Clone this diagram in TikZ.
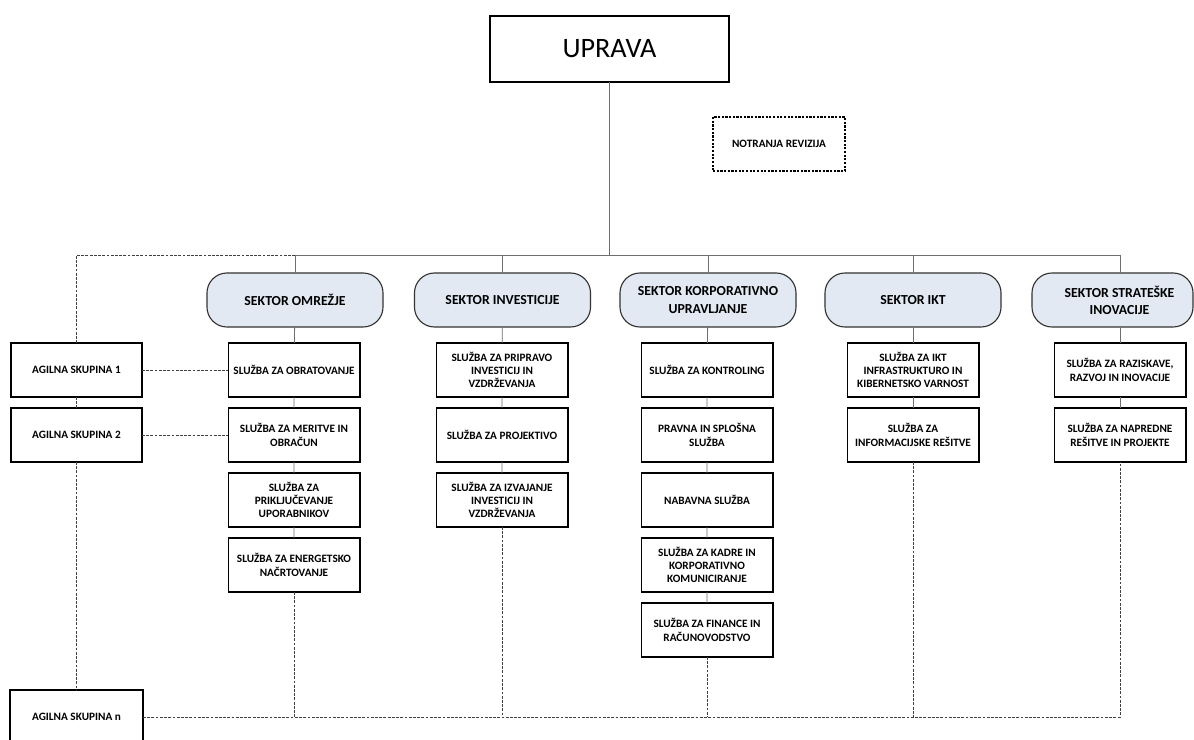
\documentclass[tikz,border=0pt]{standalone}
\usepackage{fontspec}
\setmainfont{Carlito}
\usepackage{tikz}
\usetikzlibrary{calc}

\definecolor{sektorfill}{HTML}{E2E9F3}
\definecolor{linegray}{HTML}{6E6E6E}

\tikzset{
  sluzba/.style={draw=black, line width=1.4pt, minimum width=3.275cm, minimum height=1.35cm,
    align=center, inner sep=1pt, outer sep=0pt, font=\fontsize{8}{9.4}\selectfont\bfseries},
  sektor/.style={draw=black!80, line width=0.8pt, fill=sektorfill, rounded corners=0.5cm,
    minimum width=4.4cm, minimum height=1.35cm, align=center, outer sep=0pt,
    font=\fontsize{9.8}{12.2}\selectfont\bfseries},
  vez/.style={draw=linegray, line width=0.6pt},
  crtkano/.style={draw=black!75, line width=0.5pt, dash pattern=on 2pt off 1pt}
}

\begin{document}
\begin{tikzpicture}[x=0.025cm, y=-0.025cm]

  %% Background
  \clip (0,0) rectangle (1194,740);
  \fill[white] (0,0) rectangle (1194,740);

  % Uprava in revizija
  \node[draw=black, line width=1.4pt, minimum width=5.975cm, minimum height=1.65cm, outer sep=0pt,
    font=\fontsize{20}{22}\selectfont] (uprava) at (609.5,49) {UPRAVA};
  \node[draw=black, line width=1pt, dash pattern=on 1.6pt off 1pt, minimum width=3.3cm,
    minimum height=1.35cm, outer sep=0pt, font=\fontsize{8}{9.4}\selectfont\bfseries]
    (revizija) at (779,144) {NOTRANJA REVIZIJA};
  \coordinate (bar) at (609.5,255);

  % Sektorji
  \node[sektor] (omr) at (295,300) {SEKTOR OMREŽJE};
  \node[sektor] (inv) at (502.5,300) {SEKTOR INVESTICIJE};
  \node[sektor] (korp) at (708,300) {SEKTOR KORPORATIVNO\\UPRAVLJANJE};
  \node[sektor] (ikt) at (913,300) {SEKTOR IKT};
  \node[sektor, minimum width=4.025cm] (strat) at (1112.5,300) {\hspace*{0.35cm}SEKTOR STRATEŠKE\\\hspace*{0.35cm}INOVACIJE};

  % Službe - omrežje
  \node[sluzba] (omr1) at (294,370) {SLUŽBA ZA OBRATOVANJE};
  \node[sluzba] (omr2) at (294,435) {SLUŽBA ZA MERITVE IN\\OBRAČUN};
  \node[sluzba] (omr3) at (294,500) {SLUŽBA ZA\\PRIKLJUČEVANJE\\UPORABNIKOV};
  \node[sluzba] (omr4) at (294,565) {SLUŽBA ZA ENERGETSKO\\NAČRTOVANJE};

  % Službe - investicije
  \node[sluzba] (inv1) at (502,370) {SLUŽBA ZA PRIPRAVO\\INVESTICIJ IN\\VZDRŽEVANJA};
  \node[sluzba] (inv2) at (502,435) {SLUŽBA ZA PROJEKTIVO};
  \node[sluzba] (inv3) at (502,500) {SLUŽBA ZA IZVAJANJE\\INVESTICIJ IN\\VZDRŽEVANJA};

  % Službe - korporativno upravljanje
  \node[sluzba] (korp1) at (707,370) {SLUŽBA ZA KONTROLING};
  \node[sluzba] (korp2) at (707,435) {PRAVNA IN SPLOŠNA\\SLUŽBA};
  \node[sluzba] (korp3) at (707,500) {NABAVNA SLUŽBA};
  \node[sluzba] (korp4) at (707,565) {SLUŽBA ZA KADRE IN\\KORPORATIVNO\\KOMUNICIRANJE};
  \node[sluzba] (korp5) at (707,630) {SLUŽBA ZA FINANCE IN\\RAČUNOVODSTVO};

  % Službe - IKT
  \node[sluzba] (ikt1) at (913,370) {SLUŽBA ZA IKT\\INFRASTRUKTURO IN\\KIBERNETSKO VARNOST};
  \node[sluzba] (ikt2) at (913,435) {SLUŽBA ZA\\INFORMACIJSKE REŠITVE};

  % Službe - strateške inovacije
  \node[sluzba] (strat1) at (1120,370) {SLUŽBA ZA RAZISKAVE,\\RAZVOJ IN INOVACIJE};
  \node[sluzba] (strat2) at (1120,435) {SLUŽBA ZA NAPREDNE\\REŠITVE IN PROJEKTE};

  % Agilne skupine
  \node[sluzba] (ag1) at (76.5,370) {AGILNA SKUPINA 1};
  \node[sluzba] (ag2) at (76.5,435) {AGILNA SKUPINA 2};
  \node[sluzba, minimum width=3.325cm] (agn) at (76.5,717) {AGILNA SKUPINA n};

  % Polne povezave
  \draw[vez] (uprava) -- (bar);
  \draw[vez] (omr |- bar) -- (strat1 |- bar);
  \draw[vez] (omr |- bar) -- (omr);
  \draw[vez] (inv |- bar) -- (inv);
  \draw[vez] (korp |- bar) -- (korp);
  \draw[vez] (ikt |- bar) -- (ikt);
  \draw[vez] (strat1 |- bar) -- (strat1 |- strat.north);
  \draw[vez] (omr) -- (omr1) (omr1) -- (omr2) (omr2) -- (omr3) (omr3) -- (omr4);
  \draw[vez] (inv) -- (inv1) (inv1) -- (inv2) (inv2) -- (inv3);
  \draw[vez] (korp) -- (korp1) (korp1) -- (korp2) (korp2) -- (korp3) (korp3) -- (korp4) (korp4) -- (korp5);
  \draw[vez] (ikt) -- (ikt1) (ikt1) -- (ikt2);
  \draw[vez] (strat1 |- strat.south) -- (strat1) (strat1) -- (strat2);

  % Črtkane povezave
  \draw[crtkano] (omr |- bar) -- (ag1 |- bar) -- (ag1);
  \draw[crtkano] (ag1) -- (ag2) (ag2) -- (agn);
  \draw[crtkano] (ag1) -- (omr1) (ag2) -- (omr2);
  \draw[crtkano] (agn.east) -- (agn.east -| strat2) -- (strat2.south);
  \draw[crtkano] (omr4.south) -- (omr4 |- agn.east);
  \draw[crtkano] (inv3.south) -- (inv3 |- agn.east);
  \draw[crtkano] (korp5.south) -- (korp5 |- agn.east);
  \draw[crtkano] (ikt2.south) -- (ikt2 |- agn.east);

\end{tikzpicture}
\end{document}
